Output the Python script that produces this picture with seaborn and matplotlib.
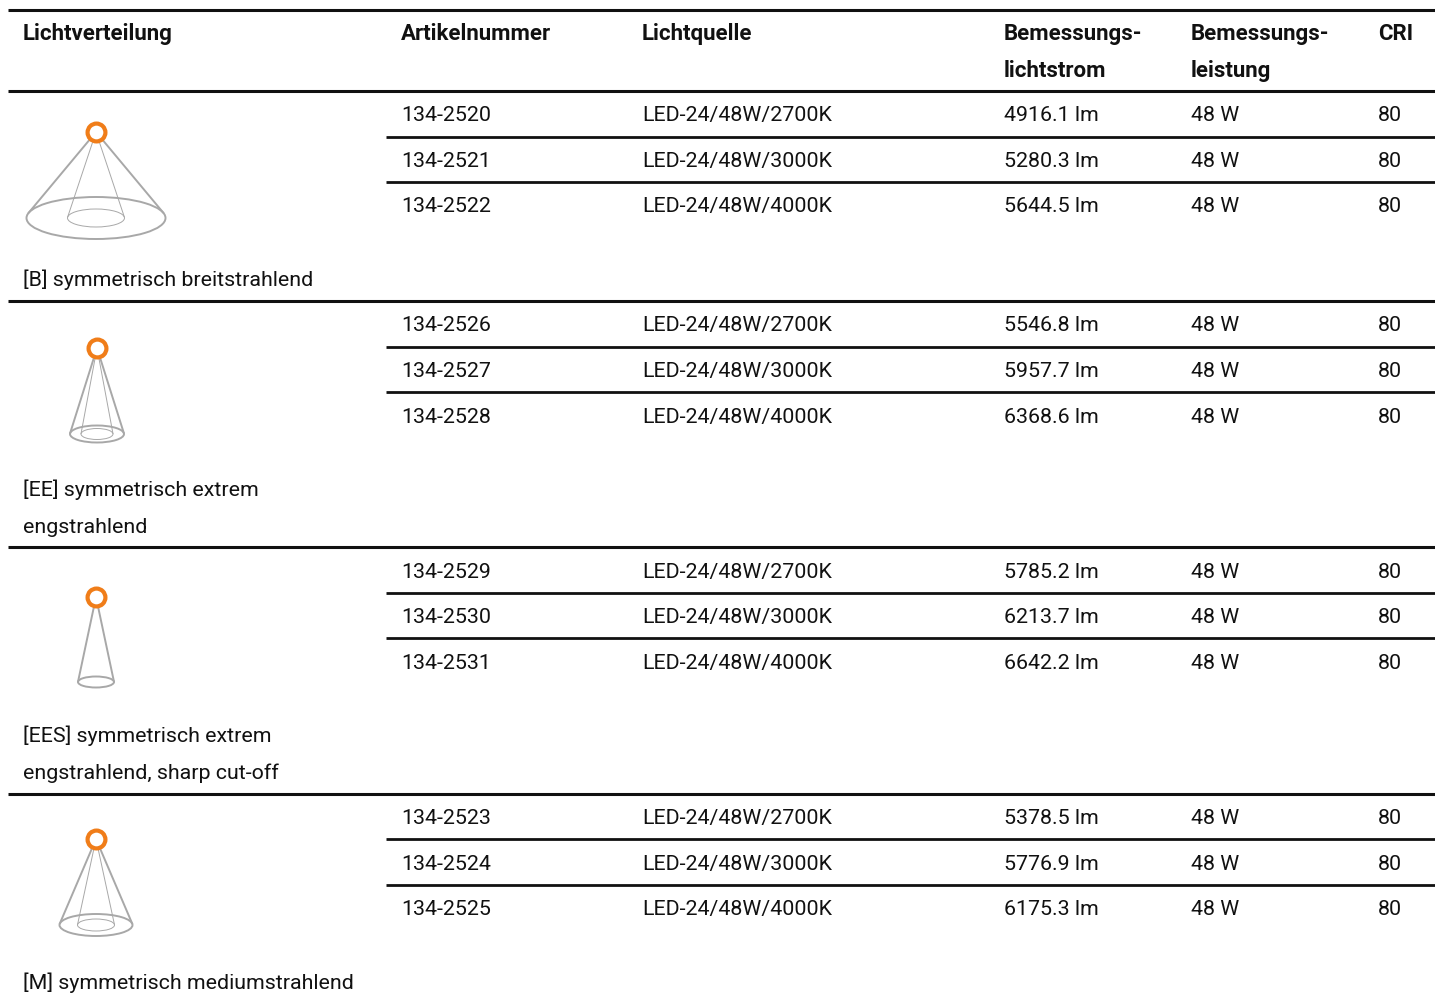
import matplotlib
matplotlib.use("Agg")
import matplotlib.pyplot as plt
from matplotlib.patches import Ellipse
import numpy as np
import pandas as pd
import seaborn as sns

# Table content
headers = ["Lichtverteilung", "Artikelnummer", "Lichtquelle",
           "Bemessungs-\nlichtstrom", "Bemessungs-\nleistung", "CRI"]
distributions = ["[B] symmetrisch breitstrahlend",
                 "[EE] symmetrisch extrem\nengstrahlend",
                 "[EES] symmetrisch extrem\nengstrahlend, sharp cut-off",
                 "[M] symmetrisch mediumstrahlend"]
articles = ["134-2520", "134-2521", "134-2522",
            "134-2526", "134-2527", "134-2528",
            "134-2529", "134-2530", "134-2531",
            "134-2523", "134-2524", "134-2525"]
sources = ["LED-24/48W/2700K", "LED-24/48W/3000K", "LED-24/48W/4000K"] * 4
flux = ["4916.1 lm", "5280.3 lm", "5644.5 lm",
        "5546.8 lm", "5957.7 lm", "6368.6 lm",
        "5785.2 lm", "6213.7 lm", "6642.2 lm",
        "5378.5 lm", "5776.9 lm", "6175.3 lm"]
power = ["48 W"] * 12
cri = ["80"] * 12

# Layout in pixels (y values are text baselines)
col_x = [23, 401, 642, 1004, 1191, 1378]
row_y = [121, 167, 212, 331, 377, 423, 578, 623, 669, 824, 870, 915]
header_y = 40
line_gap = 37
full_rules = [10, 91, 301, 547, 794]
inner_rules = [137, 182, 347, 392, 593, 638, 839, 885]
label_y = [286, 496, 742, 989]

# Cone icons: apex x/y, ellipse centre y, outer rx/ry, inner rx/ry
apex_x = [96, 97, 96, 96]
apex_y = [132, 348, 597, 839]
base_y = [218, 434, 682, 925]
outer_rx = [69.5, 27, 18, 36.5]
outer_ry = [21, 8.5, 5.5, 11]
inner_rx = [28.5, 16, 0, 18.5]
inner_ry = [9, 5.5, 0, 6]

GREY = "#a8a8a8"
ORANGE = "#f07d19"
INK = "#111111"

sns.set_theme(style="white")
plt.rcParams["font.family"] = ["Roboto", "DejaVu Sans"]

fig, ax = plt.subplots(figsize=(14.35, 9.98), dpi=100)
ax.set_position([0, 0, 1, 1])
ax.axis("off")


def cone(i, rx, ry, lw):
    # side lines run to the tangent points on the ellipse
    h = base_y[i] - apex_y[i]
    dy = ry ** 2 / h
    dx = rx * np.sqrt(1 - (ry / h) ** 2)
    for side in (-1, 1):
        seg = pd.DataFrame({"x": [apex_x[i], apex_x[i] + side * dx],
                            "y": [apex_y[i], base_y[i] - dy]})
        sns.lineplot(data=seg, x="x", y="y", color=GREY, lw=lw, ax=ax,
                     sort=False, estimator=None, zorder=2)
    ax.add_patch(Ellipse((apex_x[i], base_y[i]), rx * 2, ry * 2,
                         fill=False, ec=GREY, lw=lw, zorder=2))


def put_lines(x, y, label, size=15.4, **kw):
    for n, line in enumerate(label.split("\n")):
        ax.text(x, y + n * line_gap, line, fontsize=size, va="baseline", ha="left",
                color=INK, **kw)


# Rules
for y in full_rules:
    ax.hlines(y, 8, 1435, color=INK, lw=2.2)
for y in inner_rules:
    ax.hlines(y, 386, 1435, color=INK, lw=2.0)

# Icons
for i in range(4):
    cone(i, outer_rx[i], outer_ry[i], 1.4)
    if inner_rx[i] > 0:
        cone(i, inner_rx[i], inner_ry[i], 0.7)

rings = pd.DataFrame({"x": apex_x, "y": apex_y})
sns.scatterplot(data=rings, x="x", y="y", s=165, color="white", edgecolor=ORANGE,
                linewidth=3, ax=ax, zorder=3, legend=False)

# Text
for x, label in zip(col_x, headers):
    put_lines(x, header_y, label, size=16, fontweight="bold")
for y, a, s, f, p, c in zip(row_y, articles, sources, flux, power, cri):
    for x, val in zip(col_x[1:], [a, s, f, p, c]):
        put_lines(x, y, val)
for y, label in zip(label_y, distributions):
    put_lines(23, y, label)

ax.set_xlim(0, 1435)
ax.set_ylim(998, 0)
ax.set_xlabel("")
ax.set_ylabel("")
fig.savefig("out.png", dpi=100, facecolor="white")
